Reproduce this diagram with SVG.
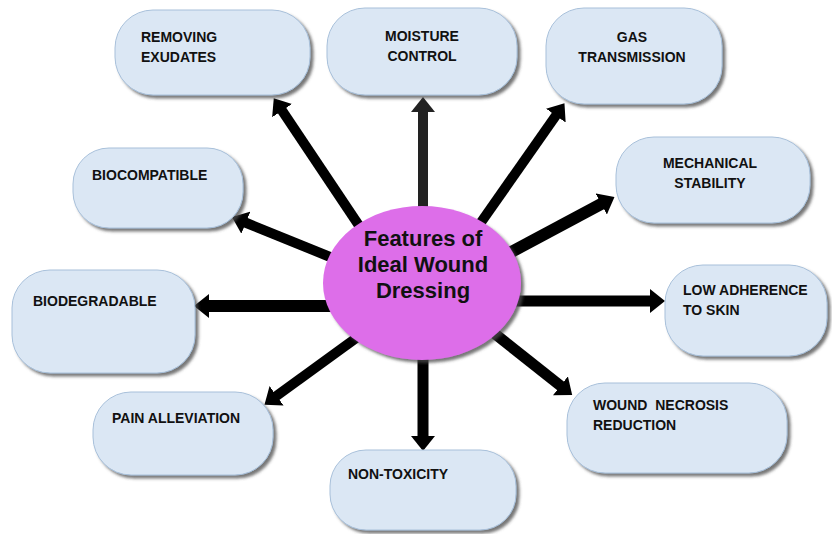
<svg xmlns="http://www.w3.org/2000/svg" width="832" height="534" viewBox="0 0 832 534">
  <defs>
    <filter id="shadow" x="-10%" y="-10%" width="125%" height="130%">
      <feDropShadow dx="3" dy="3" stdDeviation="1.6" flood-color="#4a4a4a" flood-opacity="0.75"/>
    </filter>
    <marker id="head" markerUnits="userSpaceOnUse" viewBox="0 0 15 24" markerWidth="15" markerHeight="24" refX="2" refY="12" orient="auto">
      <path d="M0,0 L15,12 L0,24 Z" fill="#000"/>
    </marker>
    <marker id="headGray" markerUnits="userSpaceOnUse" viewBox="0 0 15 24" markerWidth="15" markerHeight="24" refX="2" refY="12" orient="auto">
      <path d="M0,0 L15,12 L0,24 Z" fill="#222"/>
    </marker>
  </defs>
  <style>
    .box { fill: #dbe7f4; stroke: #a8c0da; stroke-width: 1; filter: url(#shadow); }
    .lbl { font-family: "Liberation Sans", Arial, sans-serif; font-weight: bold; font-size: 14px; fill: #111; white-space: pre; }
    .mid { text-anchor: middle; }
    .arrow { stroke: #000; stroke-width: 10; fill: none; marker-end: url(#head); }
    .hub { fill: #dd6ee9; filter: url(#shadow); }
    .hubtxt { font-family: "Liberation Sans", Arial, sans-serif; font-weight: bold; font-size: 22px; fill: #111; text-anchor: middle; }
  </style>

  <rect width="832" height="534" fill="#fff"/>

  <!-- spokes from the hub out to each feature -->
  <g id="connectors">
    <line class="arrow" x1="370" y1="242" x2="281" y2="109"/>
    <line class="arrow" x1="423" y1="230" x2="423" y2="110" style="stroke:#222;marker-end:url(#headGray)"/>
    <line class="arrow" x1="470" y1="238" x2="557" y2="114"/>
    <line class="arrow" x1="500" y1="258" x2="603" y2="203" style="stroke-width:12"/>
    <line class="arrow" x1="500" y1="301" x2="652" y2="301" style="stroke-width:11"/>
    <line class="arrow" x1="480" y1="322" x2="562" y2="387" style="stroke-width:11"/>
    <line class="arrow" x1="423" y1="330" x2="423" y2="438" style="stroke-width:11"/>
    <line class="arrow" x1="370" y1="328" x2="275" y2="397"/>
    <line class="arrow" x1="345" y1="306" x2="207" y2="306" style="stroke-width:12"/>
    <line class="arrow" x1="345" y1="263" x2="244" y2="222"/>
  </g>

  <g id="hub">
    <ellipse class="hub" cx="422" cy="283" rx="99" ry="77"/>
    <text class="hubtxt" x="423" y="246">Features of</text>
    <text class="hubtxt" x="423" y="272">Ideal Wound</text>
    <text class="hubtxt" x="423" y="298">Dressing</text>
  </g>

  <g id="removing-exudates">
    <rect class="box" x="115" y="10" width="195" height="85" rx="38"/>
    <text class="lbl" x="141" y="42">REMOVING</text>
    <text class="lbl" x="141" y="62">EXUDATES</text>
  </g>

  <g id="moisture-control">
    <rect class="box" x="327" y="8" width="190" height="87" rx="38"/>
    <text class="lbl mid" x="422" y="41">MOISTURE</text>
    <text class="lbl mid" x="422" y="61">CONTROL</text>
  </g>

  <g id="gas-transmission">
    <rect class="box" x="546" y="8" width="176" height="96" rx="38"/>
    <text class="lbl mid" x="632" y="42">GAS</text>
    <text class="lbl mid" x="632" y="62">TRANSMISSION</text>
  </g>

  <g id="mechanical-stability">
    <rect class="box" x="616" y="137" width="194" height="86" rx="38"/>
    <text class="lbl mid" x="710" y="168">MECHANICAL</text>
    <text class="lbl mid" x="710" y="188">STABILITY</text>
  </g>

  <g id="low-adherence">
    <rect class="box" x="665" y="265" width="162" height="91" rx="38"/>
    <text class="lbl" x="683" y="295">LOW ADHERENCE</text>
    <text class="lbl" x="683" y="315">TO SKIN</text>
  </g>

  <g id="wound-necrosis">
    <rect class="box" x="567" y="383" width="220" height="90" rx="38"/>
    <text class="lbl" x="593" y="410" xml:space="preserve">WOUND  NECROSIS</text>
    <text class="lbl" x="593" y="430">REDUCTION</text>
  </g>

  <g id="non-toxicity">
    <rect class="box" x="330" y="450" width="186" height="80" rx="36"/>
    <text class="lbl" x="348" y="479">NON-TOXICITY</text>
  </g>

  <g id="pain-alleviation">
    <rect class="box" x="93" y="392" width="180" height="83" rx="38"/>
    <text class="lbl" x="112" y="423">PAIN ALLEVIATION</text>
  </g>

  <g id="biodegradable">
    <rect class="box" x="12" y="270" width="183" height="103" rx="38"/>
    <text class="lbl" x="33" y="306">BIODEGRADABLE</text>
  </g>

  <g id="biocompatible">
    <rect class="box" x="73" y="148" width="170" height="80" rx="36"/>
    <text class="lbl" x="92" y="180">BIOCOMPATIBLE</text>
  </g>
</svg>
